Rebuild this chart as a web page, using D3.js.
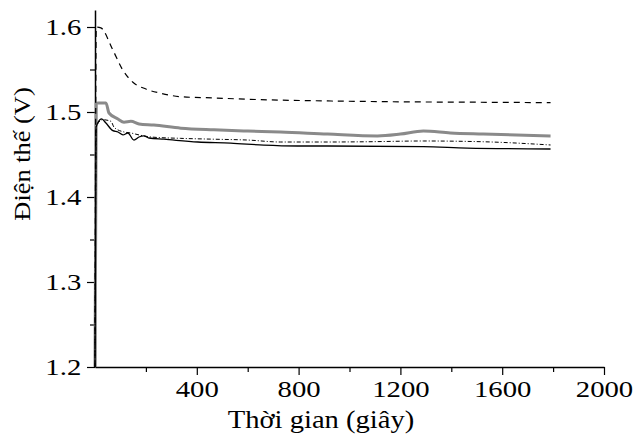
<!DOCTYPE html>
<html lang="vi">
<head>
<meta charset="UTF-8">
<script src="https://d3js.org/d3.v7.min.js"></script>
<style>
  body { margin: 0; background: #fff; }
</style>
</head>
<body>
<script>
// thoi gian (giay) va dien the (V) cho tung duong
var tDash = [0, 5, 23, 70, 110, 149, 200, 259, 337, 467, 600, 729, 914, 1200, 1500, 1790];
var vDash = [1.2, 1.6, 1.599, 1.573, 1.549, 1.535, 1.527, 1.522, 1.518, 1.5165, 1.515, 1.514, 1.513, 1.512, 1.5115, 1.511];

var tGray = [0, 5, 12, 43, 55, 90, 114, 141, 173, 231, 337, 467, 600, 729, 914, 1110, 1200, 1290, 1396, 1525, 1790];
var vGray = [1.2, 1.51, 1.5106, 1.5106, 1.4988, 1.4918, 1.488, 1.489, 1.486, 1.4847, 1.481, 1.479, 1.4776, 1.4765, 1.474, 1.4718, 1.474, 1.4776, 1.4753, 1.474, 1.4718];

var tSolid = [0, 4, 26, 43, 70, 90, 110, 129, 153, 173, 192, 212, 271, 404, 533, 663, 796, 914, 1290, 1462, 1790];
var vSolid = [1.2, 1.482, 1.4918, 1.487, 1.478, 1.4765, 1.473, 1.4753, 1.467, 1.4706, 1.4718, 1.4694, 1.468, 1.4647, 1.4635, 1.461, 1.46, 1.46, 1.4592, 1.4576, 1.4565];

var tDot = [0, 5, 30, 63, 75, 114, 141, 173, 220, 337, 467, 600, 729, 914, 1070, 1290, 1525, 1790];
var vDot = [1.2, 1.483, 1.491, 1.489, 1.482, 1.4765, 1.4753, 1.473, 1.4706, 1.469, 1.468, 1.467, 1.4647, 1.4647, 1.465, 1.4659, 1.465, 1.4612];

var xTicks = [400, 800, 1200, 1600, 2000];
var xMinor = [200, 600, 1000, 1400, 1800];
var yTicks = [1.2, 1.3, 1.4, 1.5, 1.6];
var yMinor = [1.25, 1.35, 1.45, 1.55];

var width = 635, height = 436;
var font = "'Liberation Serif', 'Times New Roman', serif";
var svg = d3.select("body").append("svg").attr("width", width).attr("height", height);

var x = d3.scaleLinear().domain([0, 2000]).range([95, 604]);
var y = d3.scaleLinear().domain([1.2, 1.62]).range([367, 10]);

// truc
var gx = svg.append("g").attr("transform", "translate(0," + y(1.2) + ")");
gx.call(d3.axisBottom(x).tickValues(xTicks).tickSize(8).tickPadding(6).tickSizeOuter(0).tickFormat(d3.format("d")));
gx.append("g").call(d3.axisBottom(x).tickValues(xMinor).tickSize(5).tickSizeOuter(0).tickFormat(""))
  .select(".domain").remove();

var gy = svg.append("g").attr("transform", "translate(" + x(0) + ",0)");
gy.call(d3.axisLeft(y).tickValues(yTicks).tickSize(8).tickSizeOuter(0).tickFormat(d3.format(".1f")));
gy.append("g").call(d3.axisLeft(y).tickValues(yMinor).tickSize(5).tickSizeOuter(0).tickFormat(""))
  .select(".domain").remove();

svg.selectAll(".domain").attr("stroke", "#000").attr("stroke-width", 1.5);
svg.selectAll(".tick line").attr("stroke", "#000").attr("stroke-width", 1.2);
svg.selectAll(".tick text")
  .style("font-family", font)
  .style("font-size", "23px")
  .attr("fill", "#000")
  .attr("transform", "scale(1.25,1)");

// duong
var line = d3.line().curve(d3.curveMonotoneX)
  .x(function(d) { return x(d[0]); }).y(function(d) { return y(d[1]); });
function pts(t, v) { return t.map(function(d, i) { return [d, v[i]]; }); }

var series = [
  { data: pts(tGray, vGray), stroke: "#8a8a8a", w: 3, dash: null },
  { data: pts(tDot, vDot), stroke: "#000", w: 1, dash: "4,2,1,2" },
  { data: pts(tSolid, vSolid), stroke: "#000", w: 1.3, dash: null },
  { data: pts(tDash, vDash), stroke: "#000", w: 1.2, dash: "6,5" }
];

svg.append("g").selectAll("path")
  .data(series)
  .enter()
  .append("path")
  .attr("d", function(d) { return line(d.data); })
  .attr("fill", "none")
  .attr("stroke", function(d) { return d.stroke; })
  .attr("stroke-width", function(d) { return d.w; })
  .attr("stroke-dasharray", function(d) { return d.dash; });

// nhan truc
svg.append("text")
  .attr("transform", "translate(321,428) scale(1.1,1)")
  .attr("text-anchor", "middle")
  .style("font-family", font)
  .style("font-size", "26px")
  .text("Thời gian (giây)");

svg.append("text")
  .attr("transform", "translate(30,154) rotate(-90) scale(1.1,1)")
  .attr("text-anchor", "middle")
  .style("font-family", font)
  .style("font-size", "24px")
  .text("Điện thế (V)");
</script>
</body>
</html>
